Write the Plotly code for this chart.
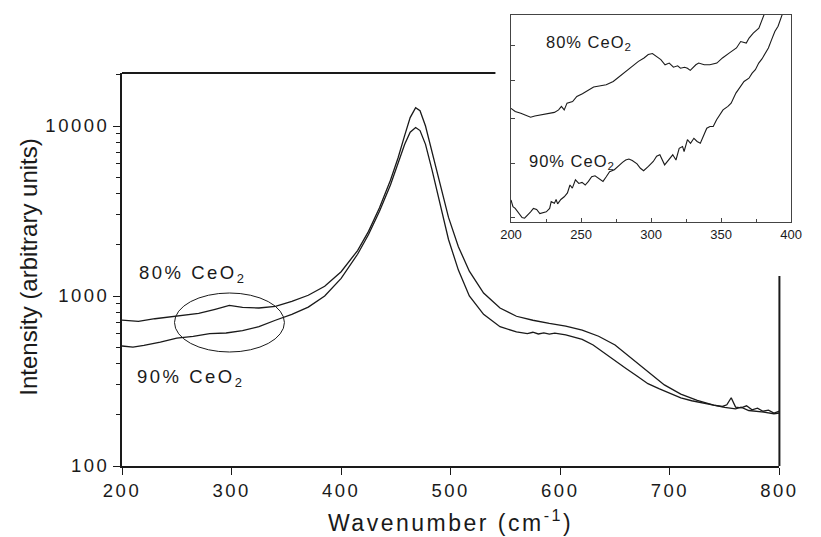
import plotly.graph_objects as go

# ---------------- data ----------------
# main panel, 80 % CeO2
main_wn_80 = [200, 215, 230, 250, 270, 285, 298, 310, 325, 340, 355, 370, 385, 400,
              415, 425, 435, 445, 452, 458, 463, 468, 472, 477, 483, 490, 498, 507,
              517, 530, 545, 560, 575, 590, 605, 620, 635, 650, 665, 680, 695, 710,
              725, 740, 750, 760, 765, 772, 780, 787, 795, 800]
main_i_80 = [722, 710, 735, 765, 790, 835, 880, 858, 850, 870, 930, 1010, 1140, 1390,
             1850, 2400, 3300, 4800, 6500, 8800, 11200, 12800, 12300, 10000, 7000, 4500, 2900, 1950,
             1400, 1040, 850, 760, 720, 690, 665, 630, 580, 515, 430, 355, 300, 265,
             243, 228, 221, 217, 222, 212, 210, 207, 203, 205]

# main panel, 90 % CeO2
main_wn_90 = [200, 210, 220, 235, 250, 265, 280, 295, 310, 325, 340, 355, 370, 385,
              400, 415, 425, 435, 445, 452, 458, 463, 468, 472, 477, 483, 490, 498,
              507, 517, 530, 545, 560, 565, 570, 575, 580, 585, 590, 595, 600, 605,
              610, 620, 630, 640, 650, 660, 670, 680, 690, 700, 710, 720, 730, 740,
              748, 752, 756, 760, 765, 770, 775, 780, 785, 790, 795, 800]
main_i_90 = [508, 500, 512, 535, 565, 578, 600, 606, 625, 660, 720, 780, 860, 1000,
             1270, 1760, 2300, 3150, 4500, 6000, 7800, 9200, 9800, 9400, 7800, 5500, 3500, 2150,
             1420, 1000, 780, 660, 615, 610, 600, 612, 598, 606, 596, 604, 598, 590,
             578, 555, 515, 465, 415, 375, 338, 305, 285, 268, 252, 242, 234, 228,
             224, 229, 252, 222, 220, 226, 214, 219, 210, 213, 205, 210]

# inset, 80 % CeO2
ins_wn_80 = [200, 203, 207, 210, 214, 217, 222, 226, 231, 234, 236, 238, 240, 244,
             247, 251, 254, 259, 263, 268, 273, 277, 282, 287, 291, 295, 298, 301,
             304, 307, 310, 313, 316, 319, 321, 324, 326, 328, 332, 334, 338, 342,
             347, 351, 356, 361, 364, 368, 370, 373, 377, 380, 383]
ins_i_80 = [726, 718, 714, 710, 704, 707, 710, 714, 716, 722, 731, 722, 739, 743,
            756, 763, 769, 781, 784, 787, 796, 808, 824, 838, 853, 863, 873, 876,
            868, 858, 843, 848, 836, 840, 833, 836, 833, 827, 843, 848, 843, 843,
            848, 863, 878, 893, 913, 908, 924, 940, 956, 995, 1030]

# inset, 90 % CeO2
ins_wn_90 = [200, 201.4, 203, 205.5, 207.9, 209.7, 211.4, 214, 216, 218.3, 220.6, 223,
             225.2, 227.6, 228.7, 231, 232.2, 233.3, 235.6, 238, 240.3, 242.1, 243.8, 246,
             248.4, 250.7, 253, 255.3, 257.6, 260, 262.3, 265.7, 268, 270.4, 273.8, 277.3,
             279.6, 281.9, 284.2, 286.6, 290, 292.4, 294.7, 298.1, 301.6, 304, 306.3, 309.7,
             313.2, 315.5, 317.8, 320.1, 322.5, 323.6, 326, 328.2, 330.6, 332.9, 335.2, 337.5,
             339.8, 342.1, 344.4, 346.8, 349, 351.4, 354.9, 357.2, 360.6, 364.1, 366.4, 369.9,
             372.2, 374.5, 376.9, 379.2, 381.5, 383.8, 386.1, 388.4, 390.7, 393, 395]
ins_i_90 = [530, 518, 515, 506, 499, 498, 502, 509, 515, 513, 506, 508,
            509, 515, 527, 524, 531, 523, 531, 536, 543, 558, 552, 568,
            561, 563, 558, 565, 574, 576, 571, 565, 574, 584, 588, 598,
            603, 608, 610, 607, 600, 591, 586, 595, 605, 616, 619, 598,
            612, 619, 608, 633, 637, 626, 652, 644, 655, 648, 644, 663,
            678, 682, 682, 698, 710, 722, 731, 739, 765, 783, 796, 805,
            819, 829, 848, 860, 878, 893, 919, 945, 962, 990, 1020]

main_xticks = [200, 300, 400, 500, 600, 700, 800]
main_yticks = [100, 1000, 10000]
main_yminor = [200, 300, 400, 500, 600, 700, 800, 900,
               2000, 3000, 4000, 5000, 6000, 7000, 8000, 9000, 20000]
ins_xticks = [200, 250, 300, 350, 400]
ins_xminor = [225, 275, 325, 375]
ins_yticks = [500, 600, 700, 800, 900]

# ---------------- figure ----------------
FONT = "Liberation Sans"
INK = "#1a1a1a"
W, H = 821, 537
ML, MR, MT, MB = 122, 8, 10, 71
PW, PH = W - ML - MR, H - MT - MB


def px(x):
    return (x - ML) / PW


def py(y):
    return (H - MB - y) / PH


def spaced(t, sp):
    return '<span style="letter-spacing:%spx">%s</span>' % (sp, t)


fig = go.Figure()
line = dict(color=INK, width=1.3)
fig.add_trace(go.Scatter(x=main_wn_80, y=main_i_80, mode="lines", line=line,
                         xaxis="x", yaxis="y", showlegend=False))
fig.add_trace(go.Scatter(x=main_wn_90, y=main_i_90, mode="lines", line=line,
                         xaxis="x", yaxis="y", showlegend=False))
line2 = dict(color=INK, width=1.1)
fig.add_trace(go.Scatter(x=ins_wn_80, y=ins_i_80, mode="lines", line=line2,
                         xaxis="x2", yaxis="y2", showlegend=False))
fig.add_trace(go.Scatter(x=ins_wn_90, y=ins_i_90, mode="lines", line=line2,
                         xaxis="x2", yaxis="y2", showlegend=False))

main_right = 676 / PW
main_top = 393 / PH
IL, IR, IT, IB = 522, 810, 15, 222
ins_lo = 2.699 - (IB - 217) / 670

fig.update_layout(
    width=W, height=H,
    margin=dict(l=ML, r=MR, t=MT, b=MB),
    paper_bgcolor="white", plot_bgcolor="white",
    font=dict(family=FONT, color=INK),
    xaxis=dict(domain=[0, main_right], range=[200, 800], tickvals=main_xticks,
               ticktext=[spaced(str(v), 2.5) for v in main_xticks],
               showline=True, linecolor=INK, linewidth=2, ticks="outside",
               ticklen=7, tickwidth=1.2, tickcolor=INK, showgrid=False,
               zeroline=False, tickfont=dict(size=18.5, family=FONT), anchor="y"),
    yaxis=dict(domain=[0, main_top], type="log", range=[2, 2 + 393 / 170],
               tickvals=main_yticks,
               ticktext=[spaced(str(v), 2.5) for v in main_yticks],
               showline=True, linecolor=INK, linewidth=2, ticks="outside",
               ticklen=7, tickwidth=1.2, tickcolor=INK, showgrid=False,
               zeroline=False, tickfont=dict(size=18.5, family=FONT), anchor="x",
               minor=dict(tickvals=main_yminor, ticks="outside", ticklen=4,
                          tickwidth=1, tickcolor=INK, showgrid=False)),
    xaxis2=dict(domain=[px(IL), px(IR)], range=[200, 400], tickvals=ins_xticks,
                showline=True, mirror=True, linecolor="#444", linewidth=1.2,
                ticks="inside", ticklen=4, tickwidth=1, tickcolor="#444",
                showgrid=False, zeroline=False,
                tickfont=dict(size=13, family=FONT), anchor="y2",
                minor=dict(tickvals=ins_xminor, ticks="inside", ticklen=3,
                           tickwidth=1, tickcolor="#444", showgrid=False)),
    yaxis2=dict(domain=[py(IB), py(IT)], type="log",
                range=[ins_lo, 3.0], tickvals=ins_yticks,
                showticklabels=False, showline=True, mirror=True,
                linecolor="#444", linewidth=1.2, ticks="inside", ticklen=4,
                tickwidth=1, tickcolor="#444", showgrid=False, zeroline=False,
                anchor="x2"),
)

shapes = [
    dict(type="line", xref="paper", yref="paper", x0=0, x1=px(IL - 16),
         y0=main_top, y1=main_top, line=dict(color=INK, width=2)),
    dict(type="line", xref="paper", yref="paper", x0=main_right, x1=main_right,
         y0=0, y1=py(276), line=dict(color=INK, width=2)),
    dict(type="circle", xref="paper", yref="paper", x0=px(176), x1=px(289),
         y0=py(352), y1=py(293), line=dict(color=INK, width=1)),
]
fig.update_layout(shapes=shapes)

ann = [
    dict(text=spaced("Wavenumber (cm<sup>-1</sup>)", 2.5), x=px(460), y=py(521),
         font=dict(size=23)),
    dict(text="Intensity (arbitrary units)", x=px(25), y=py(267),
         textangle=-90, font=dict(size=24)),
    dict(text=spaced("80% CeO<sub>2</sub>", 2.5), x=px(195), y=py(274), font=dict(size=18.5)),
    dict(text=spaced("90% CeO<sub>2</sub>", 2.5), x=px(192), y=py(378), font=dict(size=18.5)),
    dict(text=spaced("80% CeO<sub>2</sub>", 1), x=px(602), y=py(43), font=dict(size=16.5)),
    dict(text=spaced("90% CeO<sub>2</sub>", 1), x=px(585), y=py(162), font=dict(size=16.5)),
]
for a in ann:
    a.update(xref="paper", yref="paper", showarrow=False,
             xanchor="center", yanchor="middle")
fig.update_layout(annotations=ann)

fig.write_html("out.html")
